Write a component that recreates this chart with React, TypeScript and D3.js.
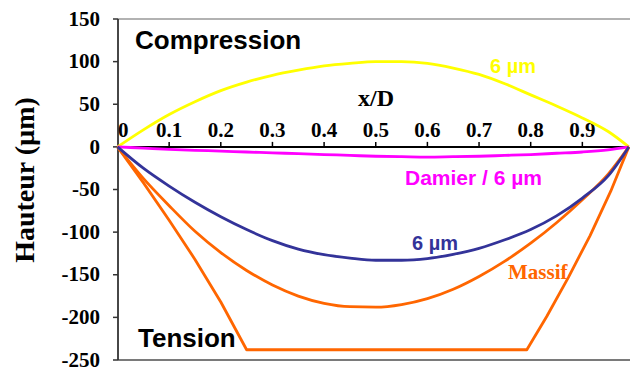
import React from "react";
import * as d3 from "d3";

const xTicks = [0, 0.1, 0.2, 0.3, 0.4, 0.5, 0.6, 0.7, 0.8, 0.9];
const xTickLabels = ["0", "0.1", "0.2", "0.3", "0.4", "0.5", "0.6", "0.7", "0.8", "0.9"];
const yTicks = [150, 100, 50, 0, -50, -100, -150, -200, -250];

const gridX = [0, 0.05, 0.1, 0.15, 0.2, 0.25, 0.3, 0.35, 0.4, 0.45, 0.5, 0.55, 0.6, 0.65, 0.7, 0.75, 0.8, 0.85, 0.9, 0.95, 0.99];
const compression6 = [0, 20, 38, 53, 66, 76, 84, 90, 95, 98, 100, 100, 98, 92.5, 85, 74, 61, 48, 34, 18, 0];
const damier6 = [0, -1.5, -3, -4, -5, -6, -7, -8, -9, -10, -11, -11.5, -12, -11.5, -11, -10, -9, -7.5, -6, -3.5, 0];
const tension6 = [0, -25, -46, -65, -82, -97, -110, -120, -126.5, -130.5, -133, -133, -131, -126, -119, -109, -97, -81, -60, -34, 0];
const massifCurve = [0, -37, -69, -99, -124, -145, -162, -175, -183.5, -187.5, -188, -185, -178, -167, -152, -134, -113, -89, -62, -32, 0];
const massifFlatX = [0, 0.05, 0.1, 0.15, 0.2, 0.25, 0.7925, 0.831, 0.873, 0.915, 0.955, 0.99];
const massifFlat = [0, -42, -86, -132, -182, -238, -238, -199, -153, -104, -52, 0];

const W = 630;
const H = 367;

export default function App() {
  const x = d3.scaleLinear().domain([0, 1]).range([117.5, 634]);
  const y = d3.scaleLinear().domain([-250, 150]).range([360, 19]);

  const smooth = d3
    .line<[number, number]>()
    .x((d) => x(d[0]))
    .y((d) => y(d[1]))
    .curve(d3.curveMonotoneX);
  const straight = d3
    .line<[number, number]>()
    .x((d) => x(d[0]))
    .y((d) => y(d[1]))
    .curve(d3.curveLinear);

  const pts = (xs: number[], ys: number[]) => xs.map((v, i) => [v, ys[i]] as [number, number]);

  const serif = "'Liberation Serif', 'Times New Roman', serif";
  const sans = "'Liberation Sans', Arial, sans-serif";

  return (
    <svg
      width={W}
      height={H}
      style={{ position: "absolute", left: 0, top: 0, background: "#fff" }}
    >
      <rect x={0} y={0} width={W} height={H} fill="#fff" />
      {/* frame */}
      <line x1={118} x2={W} y1={y(150)} y2={y(150)} stroke="#999" strokeWidth={1.5} />
      <line x1={118} x2={W} y1={y(-250)} y2={y(-250)} stroke="#7a7a7a" strokeWidth={2} />
      <line x1={118} x2={118} y1={y(150)} y2={y(-250)} stroke="#333" strokeWidth={1.8} />
      {yTicks.map((t) => (
        <g key={t}>
          <line x1={113} x2={118} y1={y(t)} y2={y(t)} stroke="#333" strokeWidth={1.5} />
          <text
            x={100}
            y={y(t)}
            dy="0.32em"
            textAnchor="end"
            fontFamily={serif}
            fontWeight="bold"
            fontSize={21}
            fill="#000"
          >
            {t}
          </text>
        </g>
      ))}
      {/* x axis at zero */}
      <line x1={118} x2={629} y1={y(0)} y2={y(0)} stroke="#000" strokeWidth={2} />
      {xTicks.map((t, i) => (
        <g key={t}>
          {t > 0 && (
            <line x1={x(t)} x2={x(t)} y1={y(0) - 5} y2={y(0)} stroke="#000" strokeWidth={1.5} />
          )}
          <text
            x={t === 0 ? x(t) + 0.5 : x(t)}
            y={137}
            textAnchor={t === 0 ? "start" : "middle"}
            fontFamily={serif}
            fontWeight="bold"
            fontSize={21}
            fill="#000"
          >
            {xTickLabels[i]}
          </text>
        </g>
      ))}
      <text x={358} y={106} fontFamily={serif} fontWeight="bold" fontSize={24} fill="#000">
        x/D
      </text>

      {/* curves */}
      <path d={smooth(pts(gridX, compression6)) || ""} fill="none" stroke="#FFFF00" strokeWidth={2.8} />
      <path d={smooth(pts(gridX, damier6)) || ""} fill="none" stroke="#FF00FF" strokeWidth={2.8} />
      <path d={smooth(pts(gridX, massifCurve)) || ""} fill="none" stroke="#FF6600" strokeWidth={2.8} />
      <path d={straight(pts(massifFlatX, massifFlat)) || ""} fill="none" stroke="#FF6600" strokeWidth={2.8} strokeLinejoin="round" />
      <path d={smooth(pts(gridX, tension6)) || ""} fill="none" stroke="#333399" strokeWidth={2.8} />

      {/* labels */}
      <text x={135} y={49} fontFamily={sans} fontWeight="bold" fontSize={26} fill="#000">
        Compression
      </text>
      <text x={138} y={347} fontFamily={sans} fontWeight="bold" fontSize={26} fill="#000">
        Tension
      </text>
      <text x={490} y={73} fontFamily={sans} fontWeight="bold" fontSize={20} fill="#FFFF00">
        6 µm
      </text>
      <text x={405} y={185} fontFamily={sans} fontWeight="bold" fontSize={21} fill="#FF00FF">
        Damier / 6 µm
      </text>
      <text x={412} y={250} fontFamily={sans} fontWeight="bold" fontSize={20} fill="#333399">
        6 µm
      </text>
      <text x={508} y={279} fontFamily={serif} fontWeight="bold" fontSize={21} fill="#FF6600">
        Massif
      </text>
      <text
        transform="translate(34,180) rotate(-90)"
        textAnchor="middle"
        fontFamily={serif}
        fontWeight="bold"
        fontSize={28}
        fill="#000"
      >
        Hauteur (µm)
      </text>
    </svg>
  );
}
